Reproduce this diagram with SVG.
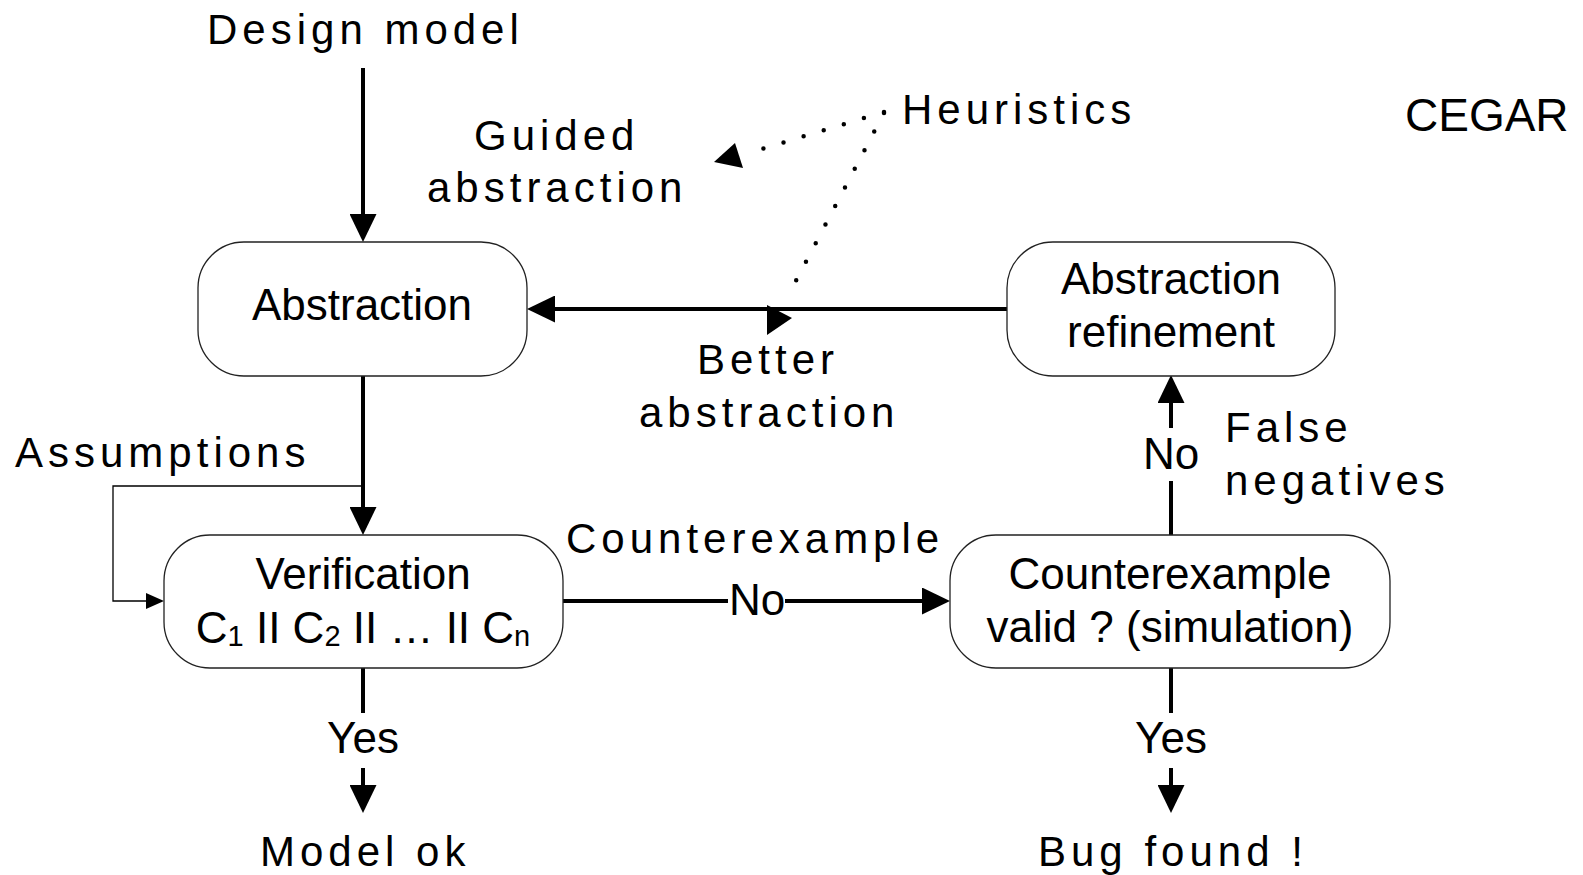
<svg xmlns="http://www.w3.org/2000/svg" width="1583" height="875" viewBox="0 0 1583 875">
  <style>
    .box { fill: #ffffff; stroke: #222222; stroke-width: 1.3; }
    .t { font-family: "Liberation Sans", Arial, sans-serif; font-size: 44px; fill: #000000; }
    .lbl { font-family: "Liberation Sans", Arial, sans-serif; font-size: 42px; letter-spacing: 5px; fill: #000000; }
    .mid { text-anchor: middle; }
    .sub { font-size: 29px; }
    .flow { fill: none; stroke: #000000; stroke-width: 4; }
    .thin { fill: none; stroke: #000000; stroke-width: 1.3; }
    .dots { fill: none; stroke: #000000; stroke-width: 4.5; stroke-linecap: round; stroke-dasharray: 0 21; }
  </style>
  <defs>
    <marker id="head" viewBox="0 0 28 27" refX="10" refY="13.5" markerWidth="28" markerHeight="27" markerUnits="userSpaceOnUse" orient="auto">
      <path d="M0,0 L28,13.5 L0,27 z" fill="#000000"/>
    </marker>
    <marker id="headSmall" viewBox="0 0 18 16" refX="4" refY="8" markerWidth="18" markerHeight="16" markerUnits="userSpaceOnUse" orient="auto">
      <path d="M0,0 L18,8 L0,16 z" fill="#000000"/>
    </marker>
  </defs>

  <!-- free labels -->
  <g id="labels">
    <text class="lbl" x="207" y="44">Design model</text>
    <text class="lbl" x="474" y="150">Guided</text>
    <text class="lbl" x="427" y="202">abstraction</text>
    <text class="lbl" x="902" y="124">Heuristics</text>
    <text class="t" x="1405" y="131" style="font-size:46px">CEGAR</text>
    <text class="lbl" x="697" y="374">Better</text>
    <text class="lbl" x="639" y="427">abstraction</text>
    <text class="lbl" x="15" y="467">Assumptions</text>
    <text class="lbl" x="566" y="553">Counterexample</text>
    <text class="lbl" x="1225" y="442">False</text>
    <text class="lbl" x="1225" y="495">negatives</text>
    <text class="lbl" x="260" y="866">Model ok</text>
    <text class="lbl" x="1038" y="866">Bug found !</text>
  </g>

  <!-- connectors -->
  <g id="connectors">
    <!-- Design model -> Abstraction -->
    <line class="flow" x1="363" y1="68" x2="363" y2="224" marker-end="url(#head)"/>
    <!-- Abstraction -> Verification -->
    <line class="flow" x1="363" y1="376" x2="363" y2="517" marker-end="url(#head)"/>
    <!-- Abstraction refinement -> Abstraction -->
    <line class="flow" x1="1007" y1="309" x2="545" y2="309" marker-end="url(#head)"/>
    <!-- Verification -> Counterexample valid? (No) -->
    <line class="flow" x1="562" y1="601" x2="728" y2="601"/>
    <line class="flow" x1="785" y1="601" x2="932" y2="601" marker-end="url(#head)"/>
    <text class="t mid" x="757" y="615">No</text>
    <!-- Counterexample valid? -> Abstraction refinement (No) -->
    <line class="flow" x1="1171" y1="535" x2="1171" y2="481"/>
    <line class="flow" x1="1171" y1="428" x2="1171" y2="393" marker-end="url(#head)"/>
    <text class="t mid" x="1171" y="469">No</text>
    <!-- Verification -> Model ok (Yes) -->
    <line class="flow" x1="363" y1="668" x2="363" y2="713"/>
    <line class="flow" x1="363" y1="768" x2="363" y2="795" marker-end="url(#head)"/>
    <text class="t mid" x="363" y="753">Yes</text>
    <!-- Counterexample valid? -> Bug found (Yes) -->
    <line class="flow" x1="1171" y1="668" x2="1171" y2="713"/>
    <line class="flow" x1="1171" y1="768" x2="1171" y2="795" marker-end="url(#head)"/>
    <text class="t mid" x="1171" y="753">Yes</text>
    <!-- Assumptions feed -->
    <polyline class="thin" points="363,486 113,486 113,601 150,601" marker-end="url(#headSmall)"/>
    <!-- Heuristics dotted hints -->
    <line class="dots" x1="884" y1="112" x2="752" y2="152"/>
    <polygon points="714,162 735,143 743,168" fill="#000000"/>
    <line class="dots" x1="884" y1="113" x2="788" y2="296"/>
    <polygon points="767,305 792,318 767,335" fill="#000000"/>
  </g>

  <!-- nodes -->
  <g id="node-abstraction">
    <rect class="box" x="198" y="242" width="329" height="134" rx="46" ry="46"/>
    <text class="t mid" x="362" y="320">Abstraction</text>
  </g>
  <g id="node-refinement">
    <rect class="box" x="1007" y="242" width="328" height="134" rx="46" ry="46"/>
    <text class="t mid" x="1171" y="294">Abstraction</text>
    <text class="t mid" x="1171" y="347">refinement</text>
  </g>
  <g id="node-verification">
    <rect class="box" x="164" y="535" width="399" height="133" rx="46" ry="46"/>
    <text class="t mid" x="363" y="589">Verification</text>
    <text class="t mid" x="363" y="643">C<tspan class="sub" dy="3">1</tspan><tspan dy="-3"> II C</tspan><tspan class="sub" dy="3">2</tspan><tspan dy="-3"> II … II C</tspan><tspan class="sub" dy="3">n</tspan></text>
  </g>
  <g id="node-counterexample">
    <rect class="box" x="950" y="535" width="440" height="133" rx="46" ry="46"/>
    <text class="t mid" x="1170" y="589">Counterexample</text>
    <text class="t mid" x="1170" y="642">valid ? (simulation)</text>
  </g>
</svg>
